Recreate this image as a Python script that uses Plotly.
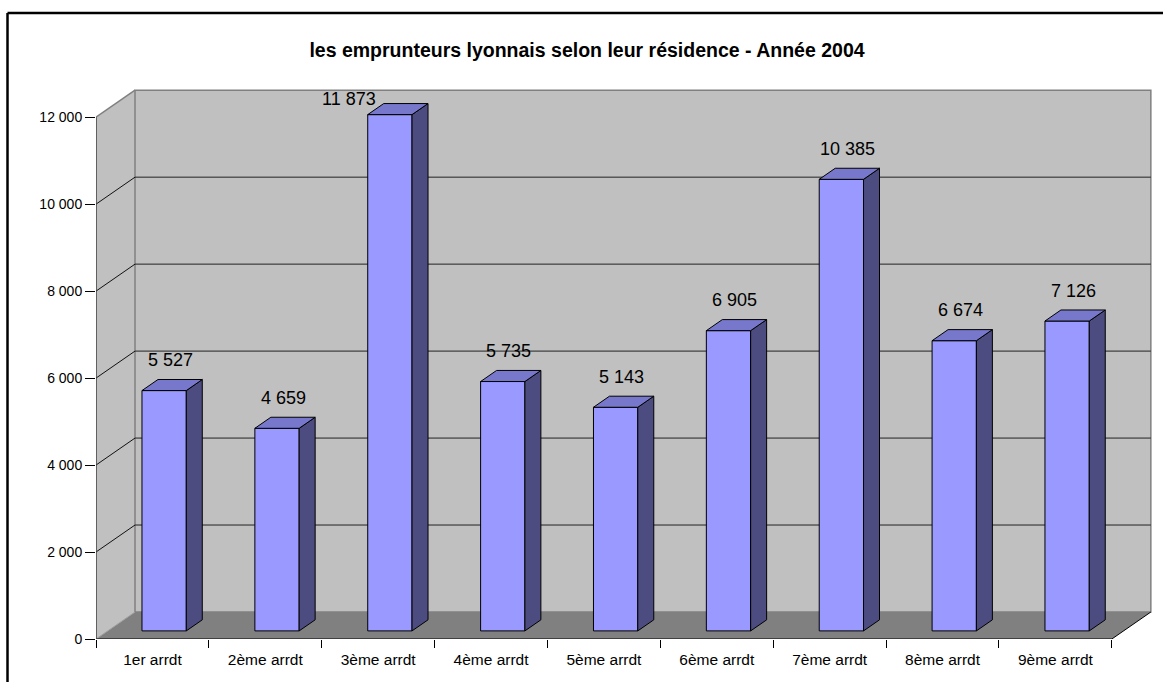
import plotly.graph_objects as go

# ---------------- data ----------------
categories = ["1er arrdt", "2ème arrdt", "3ème arrdt", "4ème arrdt", "5ème arrdt",
              "6ème arrdt", "7ème arrdt", "8ème arrdt", "9ème arrdt"]
values = [5527, 4659, 11873, 5735, 5143, 6905, 10385, 6674, 7126]
y_ticks = [0, 2000, 4000, 6000, 8000, 10000, 12000]
title_text = "les emprunteurs lyonnais selon leur résidence - Année 2004"

# ---------------- geometry (oblique 3D look) ----------------
W, H = 1163, 682
ML, MR, MT, MB = 96, 6, 86, 43
XMAX = 9.4
PX_PER_Y = 521.8 / 12000.0
YMAX = (H - MT - MB) / PX_PER_Y
PX_PER_X = (W - ML - MR) / XMAX
DX = 39 / PX_PER_X          # depth offset in x units
DY = 27 / PX_PER_Y          # depth offset in y units
YTOP = y_ticks[-1]
N = len(categories)

FRONT = 0.30    # bar front plane (fraction of depth)
DEPTH = 0.41    # bar depth (fraction of depth)
BW = 0.3925     # bar width in category units

FONT = "Liberation Sans, Arial, sans-serif"
C_WALL = "#C0C0C0"
C_FLOOR = "#808080"
C_FRONT = "#9999FF"
C_TOP = "#7777CC"
C_SIDE = "#4C4C80"


def path(pts):
    return "M " + " L ".join(f"{x},{y}" for x, y in pts) + " Z"


shapes = []
# side wall
shapes.append(dict(type="path", xref="x", yref="y", layer="below",
                   path=path([(0, 0), (DX, DY), (DX, YTOP + DY), (0, YTOP)]),
                   fillcolor=C_WALL, line=dict(width=0)))
# back wall
shapes.append(dict(type="path", xref="x", yref="y", layer="below",
                   path=path([(DX, DY), (N + DX, DY), (N + DX, YTOP + DY), (DX, YTOP + DY)]),
                   fillcolor=C_WALL, line=dict(color="#808080", width=1.5)))
# floor
shapes.append(dict(type="path", xref="x", yref="y", layer="below",
                   path=path([(0, 0), (N, 0), (N + DX, DY), (DX, DY)]),
                   fillcolor=C_FLOOR, line=dict(width=0)))
# gridlines on walls
for v in y_ticks[1:-1]:
    shapes.append(dict(type="line", xref="x", yref="y", layer="below",
                       x0=DX, y0=v + DY, x1=N + DX, y1=v + DY,
                       line=dict(color="#222222", width=1)))
    shapes.append(dict(type="line", xref="x", yref="y", layer="below",
                       x0=0, y0=v, x1=DX, y1=v + DY,
                       line=dict(color="#111111", width=1)))
# top edge of side wall
shapes.append(dict(type="line", xref="x", yref="y", layer="below",
                   x0=0, y0=YTOP, x1=DX, y1=YTOP + DY,
                   line=dict(color="#808080", width=1.5)))
# floor edges
shapes.append(dict(type="line", xref="x", yref="y", layer="below",
                   x0=0, y0=0, x1=DX, y1=DY, line=dict(color="#A0A0A0", width=1)))
shapes.append(dict(type="line", xref="x", yref="y", layer="below",
                   x0=N, y0=0, x1=N + DX, y1=DY, line=dict(color="black", width=1)))
# axis lines
shapes.append(dict(type="line", xref="x", yref="y", layer="below",
                   x0=0, y0=0, x1=N, y1=0, line=dict(color="black", width=1)))
shapes.append(dict(type="line", xref="x", yref="y", layer="below",
                   x0=0, y0=0, x1=0, y1=YTOP, line=dict(color="#404040", width=1.5)))

# outer frame (chart area border, partly cut by the picture edges)
fx0 = (7.5 - ML) / (W - ML - MR)
fy0 = (H - MB - 13) / (H - MT - MB)
shapes.append(dict(type="line", xref="paper", yref="paper", layer="above",
                   x0=fx0, y0=-0.5, x1=fx0, y1=fy0, line=dict(color="black", width=2.5)))
shapes.append(dict(type="line", xref="paper", yref="paper", layer="above",
                   x0=fx0, y0=fy0, x1=1.5, y1=fy0, line=dict(color="black", width=2.5)))

# ---------------- bars ----------------
base = FRONT * DY
centers = [i + 0.5 + FRONT * DX for i in range(N)]
ddx, ddy = DEPTH * DX, DEPTH * DY

fig = go.Figure()
fig.add_trace(go.Bar(x=centers, y=values, base=base, width=BW,
                     marker=dict(color=C_FRONT, line=dict(color="black", width=1)),
                     hoverinfo="skip", showlegend=False))

top_x, top_y, side_x, side_y = [], [], [], []
for c, v in zip(centers, values):
    x0, x1 = c - BW / 2, c + BW / 2
    t = base + v
    top_x += [x0, x1, x1 + ddx, x0 + ddx, x0, None]
    top_y += [t, t, t + ddy, t + ddy, t, None]
    side_x += [x1, x1 + ddx, x1 + ddx, x1, x1, None]
    side_y += [base, base + ddy, t + ddy, t, base, None]

fig.add_trace(go.Scatter(x=side_x, y=side_y, mode="lines", fill="toself",
                         fillcolor=C_SIDE, line=dict(color="black", width=1),
                         hoverinfo="skip", showlegend=False))
fig.add_trace(go.Scatter(x=top_x, y=top_y, mode="lines", fill="toself",
                         fillcolor=C_TOP, line=dict(color="black", width=1),
                         hoverinfo="skip", showlegend=False))

# ---------------- value labels ----------------
LABEL_GAP = 25 / PX_PER_Y
LABEL_LIMIT = YTOP + DY - 9 / PX_PER_Y
annotations = []
for c, v in zip(centers, values):
    txt = f"{v:,}".replace(",", " ")
    ly = base + v + ddy / 2 + LABEL_GAP
    if ly > LABEL_LIMIT:
        annotations.append(dict(x=c - BW / 2 + ddx, y=LABEL_LIMIT, xref="x", yref="y",
                                text=txt, showarrow=False, xanchor="right", yanchor="middle",
                                xshift=-6, font=dict(family=FONT, size=18, color="black")))
    else:
        annotations.append(dict(x=c + ddx / 2 - 2 / PX_PER_X, y=ly, xref="x", yref="y",
                                text=txt, showarrow=False, xanchor="center", yanchor="middle",
                                font=dict(family=FONT, size=18, color="black")))

fig.update_layout(
    width=W, height=H,
    margin=dict(l=ML, r=MR, t=MT, b=MB, pad=0),
    paper_bgcolor="white", plot_bgcolor="white",
    separators=", ",
    showlegend=False,
    shapes=shapes,
    annotations=annotations,
    title=dict(text=title_text, xref="paper", x=(587 - ML) / (W - ML - MR),
               yref="container", y=1 - 50 / H, xanchor="center", yanchor="middle",
               font=dict(family=FONT, size=19.5, color="black", weight="bold")),
    xaxis=dict(range=[0, XMAX], showgrid=False, zeroline=False, showline=False,
               tickmode="array", tickvals=[i + 0.5 for i in range(N)], ticktext=categories,
               ticks="outside", ticklen=0, tickcolor="black",
               tickfont=dict(family=FONT, size=15.5, color="black"),
               ticklabelstandoff=6,
               minor=dict(tickmode="array", tickvals=list(range(N + 1)), ticks="outside",
                          ticklen=8, tickcolor="black", tickwidth=1, showgrid=False),
               fixedrange=True),
    yaxis=dict(range=[0, YMAX], showgrid=False, zeroline=False, showline=False,
               tickmode="array", tickvals=y_ticks, tickformat=",d",
               ticks="outside", ticklen=10, tickcolor="black", tickwidth=1,
               tickfont=dict(family=FONT, size=14, color="black"),
               fixedrange=True),
)

fig.write_html("out.html",
               config={"displayModeBar": False, "staticPlot": True},
               post_script="document.body.style.margin='0';document.body.style.overflow='hidden';")
